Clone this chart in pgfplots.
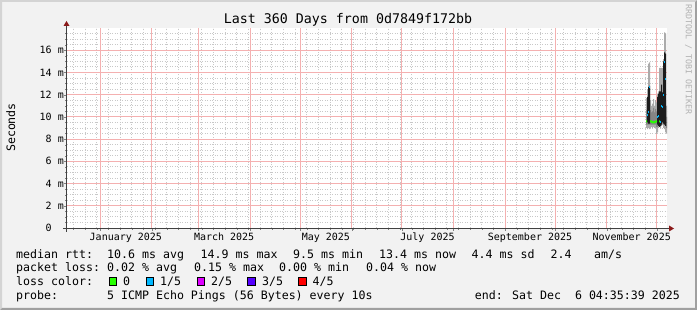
\documentclass[border=0pt]{standalone}
\usepackage{fontspec}
\setmainfont{DejaVu Sans Mono}
\usepackage{pgfplots}
\usepackage{pgfplotstable}
\pgfplotsset{compat=1.18}

\definecolor{bgc}{HTML}{F2F2F2}
\definecolor{shadea}{HTML}{D4D4D4}
\definecolor{shadeb}{HTML}{A0A0A0}
\definecolor{mgrid}{HTML}{F4B0B0}
\definecolor{gridc}{HTML}{C8C8C8}
\definecolor{arrowc}{HTML}{8B1A1A}
\definecolor{axisc}{HTML}{404040}
\definecolor{smokeA}{HTML}{ABABAB}
\definecolor{smokeB}{HTML}{858585}
\definecolor{smokeC}{HTML}{1C1C1C}
\definecolor{lcA}{HTML}{26FF00}
\definecolor{lcB}{HTML}{00B8FF}
\definecolor{lcC}{HTML}{DD00FF}
\definecolor{lcD}{HTML}{5500FF}
\definecolor{lcE}{HTML}{FF0000}

\newcommand{\lfont}{\fontsize{11.6bp}{13bp}\selectfont}

\pgfplotstableread{
d mn lo2 hi2 mx dlo dhi
327.6 9.0 9.3 10.6 11.7 9.6 9.6
328.2 8.9 9.3 11.0 12.5 9.5 11.8
328.8 9.0 9.3 11.5 14.8 9.4 12.7
329.4 8.9 9.3 11.2 14.9 9.4 12.8
330.0 9.0 9.3 10.6 11.5 9.6 9.6
330.6 9.1 9.3 10.4 11.0 9.6 9.6
331.2 9.0 9.3 10.5 11.2 9.6 9.6
331.8 9.1 9.3 10.8 11.6 9.6 9.6
332.4 9.0 9.3 10.4 11.0 9.6 9.6
333.0 9.0 9.3 10.7 11.5 9.6 9.6
333.6 8.5 9.1 10.5 11.3 9.6 9.6
334.2 8.6 9.1 11.0 12.1 9.3 11.8
334.8 9.0 9.2 11.2 12.3 9.2 12.1
335.4 9.1 9.3 11.5 14.4 9.1 12.3
336.0 9.0 9.3 11.4 14.4 9.2 12.3
336.6 9.2 9.5 11.8 14.4 9.3 12.9
337.2 9.3 9.6 11.5 14.4 9.5 12.2
337.8 9.0 9.3 12.0 15.2 9.4 15.0
338.4 8.9 9.3 12.5 17.6 9.3 15.8
339.0 8.6 9.2 11.5 17.5 9.2 15.7
339.6 8.5 9.0 10.0 11.0 9.5 9.5
340.2 8.5 9.0 10.0 11.0 9.5 9.5
}\smoke

\pgfplotstableread{
x y
327.6 9.6
328.2 9.6
nan nan
330.0 9.6
330.6 9.6
331.2 9.55
331.8 9.5
332.4 9.5
333.0 9.55
333.6 9.6
334.2 9.6
nan nan
335.4 9.6
336.0 9.6
}\medA

\pgfplotstableread{
x y
328.2 10.2
328.8 10.2
nan nan
328.8 10.4
329.4 10.4
nan nan
329.4 12.7
330.0 12.7
nan nan
334.2 10.0
334.8 10.0
nan nan
334.8 10.1
335.4 10.1
nan nan
336.0 9.5
336.6 9.5
nan nan
336.6 11.0
337.2 11.0
nan nan
337.2 10.9
337.8 10.9
nan nan
337.8 12.0
338.4 12.0
nan nan
338.4 14.9
339.0 14.9
nan nan
339.0 13.4
339.6 13.4
}\medB

\begin{document}
\begin{tikzpicture}
\fill[bgc] (0,0) rectangle (697bp,310bp);
\fill[shadea] (0,0) -- (0,310bp) -- (697bp,310bp) -- (695bp,308bp) -- (2bp,308bp) -- (2bp,2bp) -- cycle;
\fill[shadeb] (697bp,310bp) -- (697bp,0) -- (0,0) -- (2bp,2bp) -- (695bp,2bp) -- (695bp,308bp) -- cycle;

\begin{axis}[
  at={(67bp,82bp)}, anchor=south west,
  scale only axis, width=600bp, height=200bp,
  xmin=-19.8, xmax=340.2, ymin=0, ymax=18,
  axis line style={draw=none},
  axis background/.style={fill=white},
  xtick={0,31,59,90,120,151,181,212,243,273,304,334},
  xticklabels={},
  minor xtick={-16,-9,...,236,250,257,...,327},
  extra x ticks={15.5,74.5,135.5,196.5,258,319},
  extra x tick labels={January 2025,March 2025,May 2025,July 2025,September 2025,November 2025},
  extra x tick style={major tick length=0pt},
  ytick={0,2,...,16},
  yticklabels={0\phantom{ m},2 m,4 m,6 m,8 m,10 m,12 m,14 m,16 m},
  minor ytick={0.5,1,1.5,2.5,3,3.5,4.5,5,5.5,6.5,7,7.5,8.5,9,9.5,10.5,11,11.5,12.5,13,13.5,14.5,15,15.5,16.5,17,17.5},
  xtick pos=bottom, ytick pos=left,
  grid=none,
  tick align=outside,
  major tick length=3bp, minor tick length=2bp,
  ticklabel style={font=\fontsize{10bp}{12bp}\selectfont, text=black},
  xticklabel style={anchor=base, inner sep=0pt, yshift=-13bp},
  yticklabel style={anchor=east, inner sep=0pt},
  /pgf/number format/assume math mode=true,
]
% grid (minor grey dotted, major pink), drawn beneath the data
\pgfplotsinvokeforeach{-16,-9,-2,5,12,19,26,33,40,47,54,61,68,75,82,89,96,103,110,117,124,131,138,145,152,159,166,173,180,187,194,201,208,215,222,229,236,250,257,264,271,278,285,292,299,306,313,320,327}{
  \draw[gridc, line width=0.9bp, dash pattern=on 1bp off 1.5bp] (axis cs:#1,0) -- (axis cs:#1,18);
}
\pgfplotsinvokeforeach{0.5,1,1.5,2.5,3,3.5,4.5,5,5.5,6.5,7,7.5,8.5,9,9.5,10.5,11,11.5,12.5,13,13.5,14.5,15,15.5,16.5,17,17.5}{
  \draw[gridc, line width=0.9bp, dash pattern=on 1bp off 1.5bp] (axis cs:-19.8,#1) -- (axis cs:340.2,#1);
}
\pgfplotsinvokeforeach{0,31,59,90,120,151,181,212,243,273,304,334}{
  \draw[mgrid, line width=1bp] (axis cs:#1,0) -- (axis cs:#1,18);
}
\pgfplotsinvokeforeach{2,4,6,8,10,12,14,16}{
  \draw[mgrid, line width=1bp] (axis cs:-19.8,#1) -- (axis cs:340.2,#1);
}
% smoke: stacked layers (outer range, inner range, dense core)
\addplot[draw=none, const plot, stack plots=y, forget plot] table[x=d, y=mn]{\smoke};
\addplot[draw=none, fill=smokeA, const plot, stack plots=y, forget plot] table[x=d, y expr=\thisrow{mx}-\thisrow{mn}]{\smoke} \closedcycle;
\addplot[draw=none, const plot, stack plots=y, forget plot] table[x=d, y expr=\thisrow{lo2}-\thisrow{mx}]{\smoke};
\addplot[draw=none, fill=smokeB, const plot, stack plots=y, forget plot] table[x=d, y expr=\thisrow{hi2}-\thisrow{lo2}]{\smoke} \closedcycle;
\addplot[draw=none, const plot, stack plots=y, forget plot] table[x=d, y expr=\thisrow{dlo}-\thisrow{hi2}]{\smoke};
\addplot[draw=none, fill=smokeC, const plot, stack plots=y, forget plot] table[x=d, y expr=\thisrow{dhi}-\thisrow{dlo}]{\smoke} \closedcycle;
% median coloured by loss
\addplot[lcA, line width=2bp, stack plots=false, unbounded coords=jump, mark=none] table[x=x,y=y]{\medA};
\addplot[lcB, line width=2bp, stack plots=false, unbounded coords=jump, mark=none] table[x=x,y=y]{\medB};
\end{axis}

% axes
\draw[axisc, line width=1bp] (63bp,81.5bp) -- (669bp,81.5bp);
\draw[axisc, line width=1bp] (66.5bp,78bp) -- (66.5bp,284bp);
\fill[arrowc] (669bp,84.5bp) -- (674bp,81.5bp) -- (669bp,78.5bp) -- cycle;
\fill[arrowc] (63.5bp,284bp) -- (66.5bp,289bp) -- (69.5bp,284bp) -- cycle;

% title and labels
\node[anchor=base, inner sep=0pt, font=\fontsize{13.3bp}{15bp}\selectfont] at (348bp,286.7bp) {Last 360 Days from 0d7849f172bb};
\node[rotate=90, inner sep=0pt, font=\lfont] at (10.7bp,182.5bp) {Seconds};
\node[rotate=-90, anchor=west, inner sep=0pt, text=black!30, font=\fontsize{8.3bp}{9bp}\selectfont] at (688.5bp,306bp) {RRDTOOL / TOBI OETIKER};

% legend
\begin{scope}[every node/.style={anchor=base west, inner sep=0pt, font=\lfont}]
\node at (16bp,51.7bp) {median rtt:};
\node at (107bp,51.7bp) {10.6 ms avg};
\node at (200.5bp,51.7bp) {14.9 ms max};
\node at (293bp,51.7bp) {9.5 ms min};
\node at (379bp,51.7bp) {13.4 ms now};
\node at (471.5bp,51.7bp) {4.4 ms sd};
\node at (550.5bp,51.7bp) {2.4};
\node at (594bp,51.7bp) {am/s};

\node at (16bp,38.3bp) {packet loss:};
\node at (107bp,38.3bp) {0.02 \% avg};
\node at (194bp,38.3bp) {0.15 \% max};
\node at (279bp,38.3bp) {0.00 \% min};
\node at (366bp,38.3bp) {0.04 \% now};

\node at (16bp,24.3bp) {loss color:};
\node at (123bp,24.3bp) {0};
\node at (160bp,24.3bp) {1/5};
\node at (211bp,24.3bp) {2/5};
\node at (262bp,24.3bp) {3/5};
\node at (312.5bp,24.3bp) {4/5};

\node at (16bp,10.3bp) {probe:};
\node at (107bp,10.3bp) {5 ICMP Echo Pings (56 Bytes) every 10s};
\node[anchor=base east] at (680bp,10.3bp) {end: Sat Dec\ \ 6 04:35:39 2025};
\end{scope}
\begin{scope}[every node/.style={draw=black, line width=0.8bp, minimum size=7.5bp, inner sep=0pt, anchor=south west}]
\node[fill=lcA] at (108.7bp,24.3bp) {};
\node[fill=lcB] at (145.7bp,24.3bp) {};
\node[fill=lcC] at (196.7bp,24.3bp) {};
\node[fill=lcD] at (247.3bp,24.3bp) {};
\node[fill=lcE] at (298.3bp,24.3bp) {};
\end{scope}
\pgfresetboundingbox
\path[use as bounding box] (0,0) rectangle (697bp,310bp);
\end{tikzpicture}
\end{document}
